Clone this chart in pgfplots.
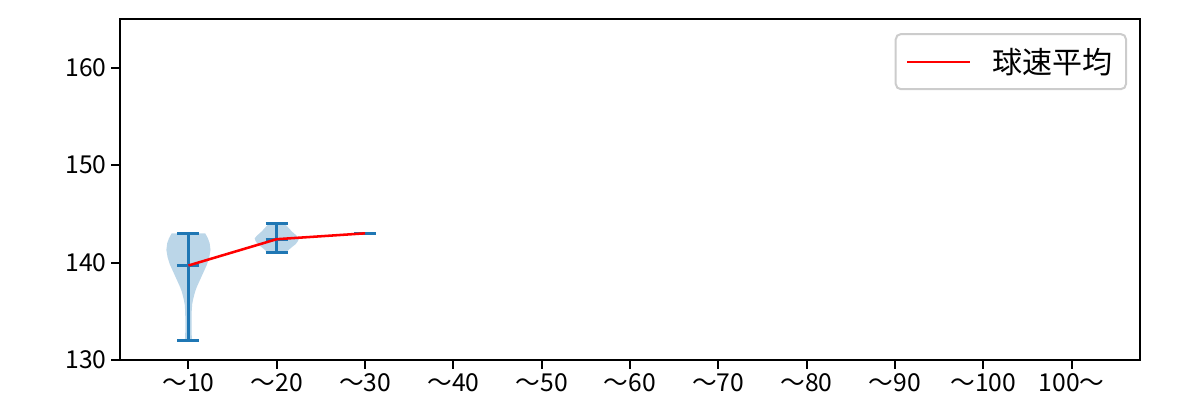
\documentclass[border=0pt]{standalone}
\usepackage{fontspec}
\setmainfont{Noto Sans CJK JP}
\usepackage{pgfplots}
\pgfplotsset{compat=1.18}

\definecolor{vblue}{HTML}{1F77B4}

\begin{document}
\begin{tikzpicture}
\begin{axis}[
  scale only axis,
  width=765pt, height=255.75pt,
  xmin=0.225, xmax=11.775,
  ymin=130, ymax=165,
  xtick={1,2,3,4,5,6,7,8,9,10,11},
  xticklabels={～10,～20,～30,～40,～50,～60,～70,～80,～90,～100,100～},
  ytick={130,140,150,160},
  tick align=outside,
  xtick pos=bottom, ytick pos=left,
  major tick length=6.5pt,
  tick style={black, line width=1.5pt},
  axis line style={line width=1.5pt},
  ticklabel style={font=\fontsize{18.5}{22}\selectfont},
  /pgf/number format/assume math mode=true,
  unbounded coords=jump,
  clip=false,
  legend style={at={(0.9873,0.9589)}, anchor=north east,
    draw=black!20, line width=1.5pt, rounded corners=4pt,
    font=\fontsize{22.5}{27}\selectfont,
    inner xsep=8pt, inner ysep=8.5pt},
  legend cell align=left,
  legend image code/.code={\draw[red, line width=1.6pt] (0pt,0pt) -- (47pt,0pt);
    \path (61pt,0pt);},
]
% violin bodies
\addplot[draw=none, fill=vblue, fill opacity=0.3, forget plot] coordinates {
  (1.04,132) (1.035,133) (1.035,134) (1.037,135) (1.042,135.7) (1.055,136.3)
  (1.075,137) (1.095,137.5) (1.13,138.2) (1.17,139) (1.21,139.8) (1.235,140.5)
  (1.25,141.3) (1.24,142) (1.22,142.5) (1.19,143)
  (0.81,143) (0.78,142.5) (0.76,142) (0.75,141.3) (0.765,140.5) (0.79,139.8)
  (0.83,139) (0.87,138.2) (0.905,137.5) (0.925,137) (0.945,136.3) (0.958,135.7)
  (0.963,135) (0.965,134) (0.965,133) (0.96,132)
} -- cycle;
\addplot[draw=none, fill=vblue, fill opacity=0.3, forget plot] coordinates {
  (2.10,141) (2.11,141.1) (2.16,141.5) (2.215,141.9) (2.24,142.2) (2.25,142.5)
  (2.22,142.8) (2.17,143.2) (2.13,143.6) (2.09,144)
  (1.91,144) (1.87,143.6) (1.83,143.2) (1.78,142.8) (1.75,142.5) (1.76,142.2)
  (1.785,141.9) (1.84,141.5) (1.89,141.1) (1.90,141)
} -- cycle;
% bars, caps and means
\addplot[vblue, line width=2.2pt, forget plot] coordinates {
  (1,132) (1,143) (nan,nan)
  (0.875,143) (1.125,143) (nan,nan)
  (0.875,132) (1.125,132) (nan,nan)
  (0.875,139.7) (1.125,139.7) (nan,nan)
  (2,141) (2,144) (nan,nan)
  (1.875,144) (2.125,144) (nan,nan)
  (1.875,141) (2.125,141) (nan,nan)
  (1.875,142.4) (2.125,142.4) (nan,nan)
  (2.875,143) (3.125,143)
};
% mean line
\addplot[red, line width=1.9pt] coordinates {(1,139.7) (2,142.4) (3,143)};
\addlegendentry{球速平均}
\end{axis}
\pgfresetboundingbox
\path[use as bounding box] ([xshift=-90pt,yshift=-30pt]current axis.south west)
  rectangle ([xshift=45pt,yshift=14.25pt]current axis.north east);
\end{tikzpicture}
\end{document}
